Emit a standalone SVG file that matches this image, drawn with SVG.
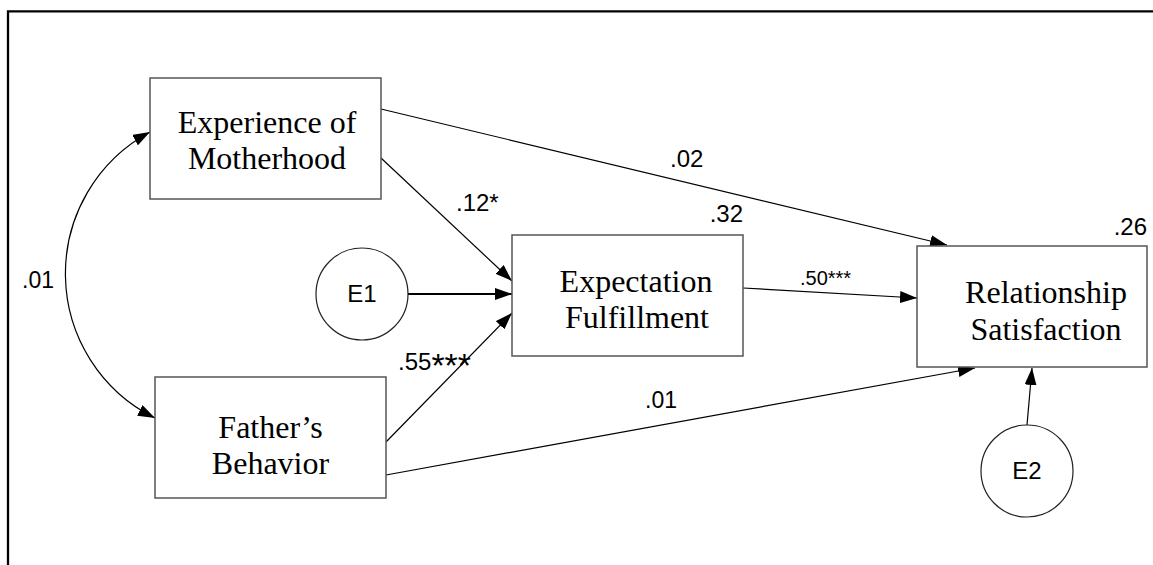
<svg xmlns="http://www.w3.org/2000/svg" width="1153" height="565" viewBox="0 0 1153 565">
<defs>
<marker id="ah" viewBox="0 0 17 12" refX="17" refY="6" markerWidth="17" markerHeight="12" markerUnits="userSpaceOnUse" orient="auto-start-reverse">
<path d="M0,0 L17,6 L0,12 z" fill="#000"/>
</marker>
<style>
.box{fill:#fff;stroke:#555;stroke-width:1.5}
.circ{fill:#fff;stroke:#222;stroke-width:1.2}
.nt{font-family:"Liberation Serif","Times New Roman",serif;font-size:32px;fill:#000;text-anchor:middle}
.ct{font-family:"Liberation Sans",Arial,sans-serif;font-size:24px;fill:#000;text-anchor:middle}
.lb{font-family:"Liberation Sans",Arial,sans-serif;font-size:23px;fill:#000}
.edge{fill:none;stroke:#000;stroke-width:1.2;marker-end:url(#ah)}
</style>
</defs>
<rect x="0" y="0" width="1153" height="565" fill="#fff"/>
<path d="M8,570 L8,11.3 L1160,11.3" fill="none" stroke="#000" stroke-width="2.3"/>
<g id="connectors">
<path class="edge" d="M150,132 A161,161 0 0 0 155,418" style="marker-start:url(#ah)"/>
<line class="edge" x1="381" y1="109" x2="947" y2="245"/>
<line class="edge" x1="381" y1="158" x2="512" y2="281"/>
<line class="edge" x1="408" y1="294" x2="512" y2="294" style="stroke-width:2.2"/>
<line class="edge" x1="386" y1="442" x2="512" y2="313"/>
<line class="edge" x1="743" y1="288" x2="917" y2="298"/>
<line class="edge" x1="386" y1="475" x2="975" y2="368"/>
<line class="edge" x1="1027" y1="425" x2="1032" y2="368"/>
</g>
<g id="labels">
<text class="lb" x="22" y="288">.01</text>
<text class="lb" x="670" y="167" style="font-size:24px">.02</text>
<text class="lb" x="456" y="211" style="font-size:24px">.12*</text>
<text class="lb" x="743" y="222" text-anchor="end" style="font-size:24px">.32</text>
<text class="lb" x="1147" y="235" text-anchor="end" style="font-size:24px">.26</text>
<text class="lb" x="800" y="285" style="font-size:20px">.50***</text>
<text class="lb" x="398" y="370" style="font-size:24px">.55<tspan dy="7" style="font-size:34px">***</tspan></text>
<text class="lb" x="645" y="408">.01</text>
</g>
<g id="motherhood">
<rect class="box" x="150" y="78" width="231" height="121"/>
<text class="nt" x="267" y="133">Experience of</text>
<text class="nt" x="267" y="169">Motherhood</text>
</g>
<g id="father">
<rect class="box" x="155" y="377" width="231" height="121"/>
<text class="nt" x="270.5" y="438">Father’s</text>
<text class="nt" x="270.5" y="474">Behavior</text>
</g>
<g id="expectation">
<rect class="box" x="512" y="235" width="231" height="121"/>
<text class="nt" x="636" y="292">Expectation</text>
<text class="nt" x="637" y="328">Fulfillment</text>
</g>
<g id="relationship">
<rect class="box" x="917" y="246" width="230" height="121"/>
<text class="nt" x="1046" y="303">Relationship</text>
<text class="nt" x="1046" y="340">Satisfaction</text>
</g>
<g id="e1">
<circle class="circ" cx="362" cy="294" r="46"/>
<text class="ct" x="362" y="302">E1</text>
</g>
<g id="e2">
<circle class="circ" cx="1027" cy="471" r="46"/>
<text class="ct" x="1027" y="479">E2</text>
</g>
</svg>
